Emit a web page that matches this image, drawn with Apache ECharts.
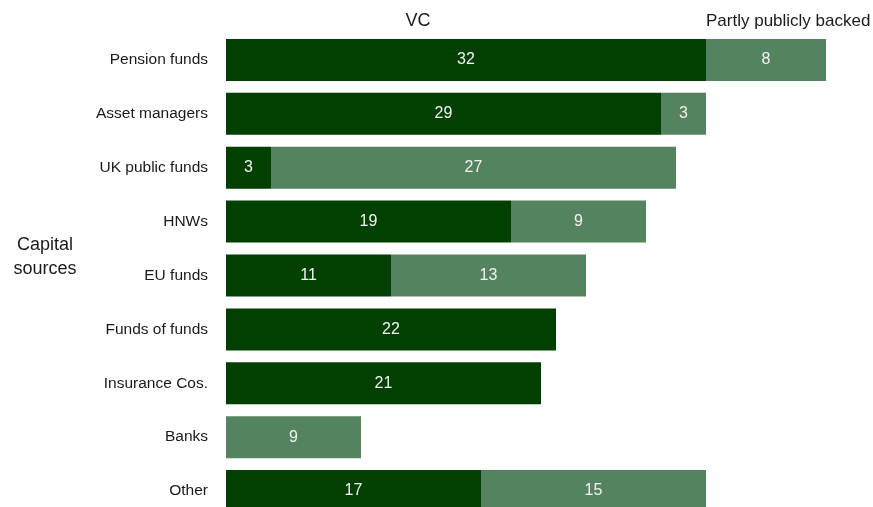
<!DOCTYPE html>
<html>
<head>
<meta charset="utf-8">
<script src="https://cdn.jsdelivr.net/npm/echarts@6/dist/echarts.min.js"></script>
<style>
  html, body { margin: 0; padding: 0; background: #fff; }
  #chart { width: 873px; height: 507px; }
</style>
</head>
<body>
<div id="chart"></div>
<script>
const categories = ['Pension funds', 'Asset managers', 'UK public funds', 'HNWs', 'EU funds',
                    'Funds of funds', 'Insurance Cos.', 'Banks', 'Other'];
const vcValues = [32, 29, 3, 19, 11, 22, 21, '-', 17];
const partlyValues = [8, 3, 27, 9, 13, '-', '-', 9, 15];
const seriesNames = ['VC', 'Partly publicly backed'];

const font = "'Liberation Sans Narrow', 'Arial Narrow', 'Liberation Sans', Arial, sans-serif";

var chart = echarts.init(document.getElementById('chart'));

var barLabel = {
  show: true,
  position: 'inside',
  color: '#f2f2f2',
  fontFamily: font,
  fontSize: 16
};

var option = {
  backgroundColor: '#fff',
  animation: false,
  grid: { left: 226, top: 33, width: 600, height: 485, outerBoundsMode: 'none' },
  xAxis: { type: 'value', min: 0, max: 40, show: false },
  yAxis: {
    type: 'category',
    data: categories,
    inverse: true,
    axisLine: { show: false },
    axisTick: { show: false },
    axisLabel: { margin: 18, color: '#1a1a1a', fontFamily: font, fontSize: 15.5 }
  },
  graphic: [
    { type: 'text', x: 418, y: 21,
      style: { text: seriesNames[0], font: '18px ' + font, fill: '#1a1a1a',
               align: 'center', verticalAlign: 'middle' } },
    { type: 'text', x: 706, y: 21,
      style: { text: seriesNames[1], font: '17px ' + font, fill: '#1a1a1a',
               align: 'left', verticalAlign: 'middle' } },
    { type: 'text', x: 45, y: 257,
      style: { text: 'Capital\nsources', font: '18px ' + font, fill: '#1a1a1a',
               align: 'center', verticalAlign: 'middle', lineHeight: 24 } }
  ],
  series: [
    { name: seriesNames[0], type: 'bar', stack: 'total', barWidth: 42,
      itemStyle: { color: '#023f02' }, label: barLabel, data: vcValues },
    { name: seriesNames[1], type: 'bar', stack: 'total', barWidth: 42,
      itemStyle: { color: '#56835f' }, label: barLabel, data: partlyValues }
  ]
};

chart.setOption(option);
</script>
</body>
</html>
